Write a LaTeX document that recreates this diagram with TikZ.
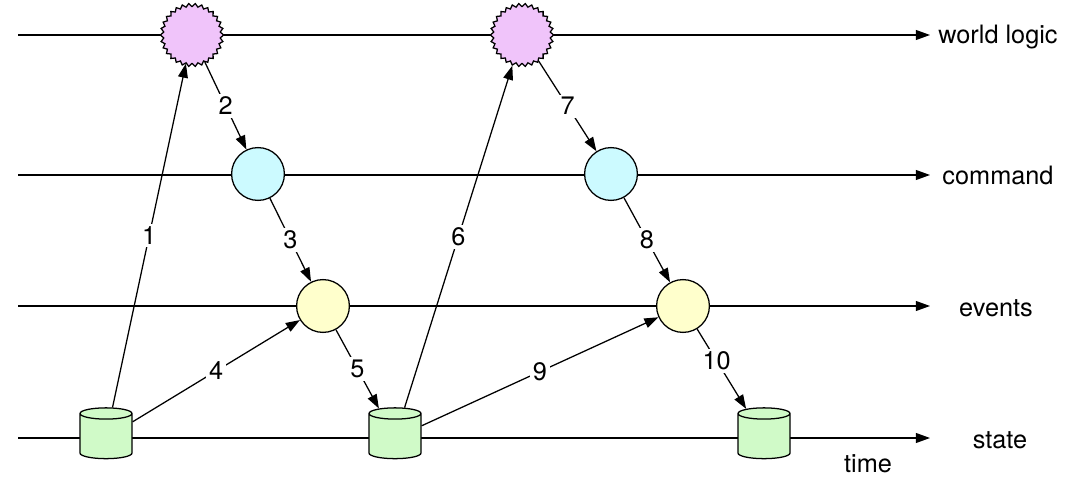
\documentclass[tikz,border=0pt]{standalone}
\usepackage{fontspec}
\setmainfont{TeX Gyre Heros}
\usetikzlibrary{shapes.geometric,arrows.meta}
\definecolor{logicpink}{RGB}{240,196,250}
\definecolor{cmdcyan}{RGB}{204,250,255}
\definecolor{evyellow}{RGB}{255,255,204}
\definecolor{stgreen}{RGB}{208,250,200}
\tikzset{
    arr/.style={-{Triangle[length=10pt,width=7pt]},line width=0.9pt},
    logic/.style={star,star points=30,star point ratio=0.9,minimum size=1.42cm,
        draw,line width=0.9pt,fill=logicpink,inner sep=0pt},
    cmd/.style={circle,draw,line width=0.9pt,fill=cmdcyan,minimum size=1.32cm,inner sep=0pt},
    ev/.style={circle,draw,line width=0.9pt,fill=evyellow,minimum size=1.32cm,inner sep=0pt},
    store/.style={cylinder,shape border rotate=90,aspect=1.2,draw,line width=0.9pt,
        fill=stgreen,minimum width=1.3cm,minimum height=1.27cm},
    lbl/.style={fill=white,inner sep=2pt,font=\fontsize{18}{18}\selectfont},
    lane/.style={font=\fontsize{18}{18}\selectfont}
}
\begin{document}
\begin{tikzpicture}[x=0.025cm,y=0.025cm]
    \useasboundingbox (0,0) rectangle (1080,482);
    % time lines
    \coordinate (wlA) at (18,447); \coordinate (wlB) at (930,447);
    \coordinate (cmA) at (18,307); \coordinate (cmB) at (930,307);
    \coordinate (evA) at (18,176); \coordinate (evB) at (930,176);
    \coordinate (stA) at (18,44);  \coordinate (stB) at (930,44);
    \draw[arr] (wlA) -- (wlB);
    \draw[arr] (cmA) -- (cmB);
    \draw[arr] (evA) -- (evB);
    \draw[arr] (stA) -- (stB);
    \node[lane] (wlT) at (998,445) {world logic};
    \node[lane] (cmT) at (998,307) {command};
    \node[lane] (evT) at (996,174) {events};
    \node[lane] (stT) at (1000,42) {state};
    \node[lane] (tmT) at (868,18) {time};
    % nodes
    \node[logic] (wl1) at (192,447) {};
    \node[logic] (wl2) at (522,447) {};
    \node[cmd] (cm1) at (258,308) {};
    \node[cmd] (cm2) at (611,308) {};
    \node[ev] (ev1) at (323,176) {};
    \node[ev] (ev2) at (683,176) {};
    \node[store] (st1) at (106,44) {};
    \node[store] (st2) at (395,44) {};
    \node[store] (st3) at (764,44) {};
    % steps
    \draw[arr] (st1) -- node[lbl] {1} (wl1);
    \draw[arr] (wl1) -- node[lbl] {2} (cm1);
    \draw[arr] (cm1) -- node[lbl] {3} (ev1);
    \draw[arr] (st1) -- node[lbl] {4} (ev1);
    \draw[arr] (ev1) -- node[lbl] {5} (st2);
    \draw[arr] (st2) -- node[lbl] {6} (wl2);
    \draw[arr] (wl2) -- node[lbl] {7} (cm2);
    \draw[arr] (cm2) -- node[lbl] {8} (ev2);
    \draw[arr] (st2) -- node[lbl] {9} (ev2);
    \draw[arr] (ev2) -- node[lbl,pos=0.4] {10} (st3);
\end{tikzpicture}
\end{document}
